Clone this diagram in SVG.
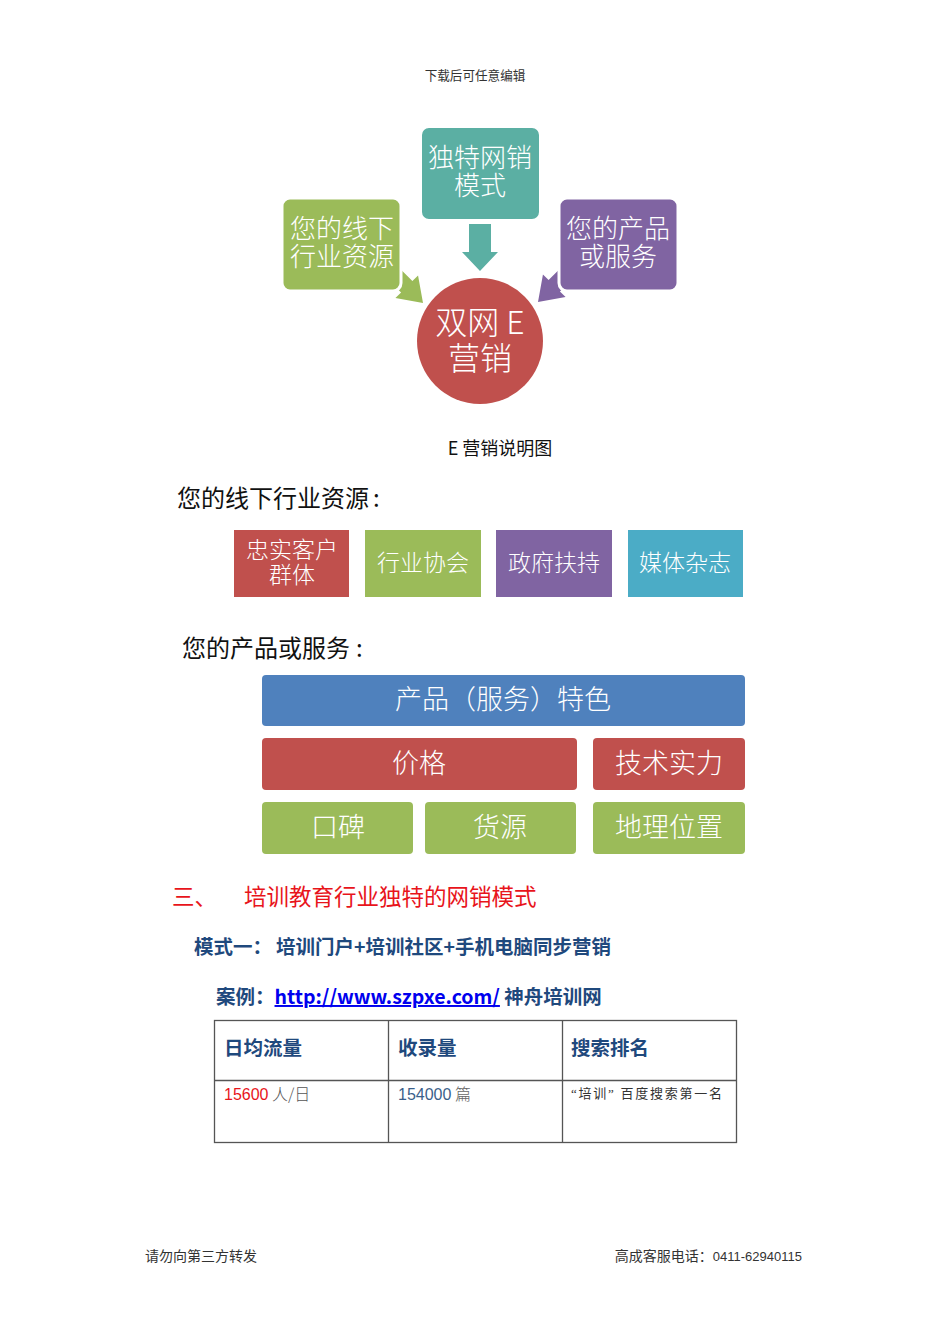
<svg xmlns="http://www.w3.org/2000/svg" width="950" height="1344" viewBox="0 0 950 1344">
<style>
.w{fill:#fff;font-family:"Noto Sans CJK SC","Liberation Sans",sans-serif;font-weight:300;text-anchor:middle}
.k{fill:#111;font-family:"Noto Sans CJK SC","Liberation Sans",sans-serif}
.b{fill:#1F497D;font-family:"Noto Sans CJK SC","Liberation Sans",sans-serif;font-weight:bold}
.s{fill:#333;font-family:"Liberation Serif","Noto Sans CJK SC",serif}
.red{fill:#C0504D}.grn{fill:#9BBB59}.pur{fill:#8064A2}.blu{fill:#4BACC6}.teal{fill:#5BAFA3}.dblu{fill:#4F81BD}
</style>
<text class="s" x="475" y="80" font-size="12.6" text-anchor="middle">下载后可任意编辑</text>

<g id="connectors">
<polygon class="grn" transform="translate(423,303) rotate(45)" points="0,0 -23,-16 -23,-8 -50,-8 -50,8 -23,8 -23,16"/>
<polygon class="pur" transform="translate(538,302) rotate(135)" points="0,0 -23,-16 -23,-8 -50,-8 -50,8 -23,8 -23,16"/>
<polygon class="teal" points="469,224 491,224 491,252 498,252 480,271 462,252 469,252"/>
</g>

<g id="node-teal">
<rect class="teal" x="421" y="127" width="119" height="93" rx="8" stroke="#fff" stroke-width="2"/>
<text class="w" font-size="26"><tspan x="480" y="167">独特网销</tspan><tspan x="480" y="195">模式</tspan></text>
</g>
<g id="node-green">
<rect class="grn" x="282" y="198" width="119" height="93" rx="8" stroke="#fff" stroke-width="3"/>
<text class="w" font-size="26"><tspan x="342" y="238">您的线下</tspan><tspan x="342" y="266">行业资源</tspan></text>
</g>
<g id="node-purple">
<rect class="pur" x="559" y="198" width="119" height="93" rx="8" stroke="#fff" stroke-width="3"/>
<text class="w" font-size="26"><tspan x="618" y="238">您的产品</tspan><tspan x="618" y="266">或服务</tspan></text>
</g>
<g id="node-center">
<circle class="red" cx="480" cy="341" r="63"/>
<text class="w" font-size="32"><tspan x="480" y="334">双网 E</tspan><tspan x="480" y="370">营销</tspan></text>
</g>

<text class="k" x="500" y="455" font-size="18" text-anchor="middle">E 营销说明图</text>

<text class="k" x="177" y="507" font-size="24">您的线下行业资源<tspan dx="4">:</tspan></text>
<g id="res-1"><rect class="red" x="234" y="530" width="115" height="67"/>
<text class="w" font-size="23"><tspan x="292" y="558">忠实客户</tspan><tspan x="292" y="583">群体</tspan></text></g>
<g id="res-2"><rect class="grn" x="365" y="530" width="116" height="67"/><text class="w" x="423" y="571" font-size="23">行业协会</text></g>
<g id="res-3"><rect class="pur" x="496" y="530" width="116" height="67"/><text class="w" x="554" y="571" font-size="23">政府扶持</text></g>
<g id="res-4"><rect class="blu" x="628" y="530" width="115" height="67"/><text class="w" x="685" y="571" font-size="23">媒体杂志</text></g>

<text class="k" x="182" y="657" font-size="24">您的产品或服务<tspan dx="6">:</tspan></text>
<g id="p-1"><rect class="dblu" x="262" y="675" width="483" height="51" rx="4"/><text class="w" x="503" y="709" font-size="27">产品（服务）特色</text></g>
<g id="p-2"><rect class="red" x="262" y="738" width="315" height="52" rx="4"/><text class="w" x="419" y="773" font-size="27">价格</text></g>
<g id="p-3"><rect class="red" x="593" y="738" width="152" height="52" rx="4"/><text class="w" x="669" y="773" font-size="27">技术实力</text></g>
<g id="p-4"><rect class="grn" x="262" y="802" width="151" height="52" rx="4"/><text class="w" x="338" y="837" font-size="27">口碑</text></g>
<g id="p-5"><rect class="grn" x="425" y="802" width="151" height="52" rx="4"/><text class="w" x="500" y="837" font-size="27">货源</text></g>
<g id="p-6"><rect class="grn" x="593" y="802" width="152" height="52" rx="4"/><text class="w" x="669" y="837" font-size="27">地理位置</text></g>

<text x="172" y="905" font-size="22.5" fill="#E8141B" font-family="Noto Sans CJK SC,Liberation Sans,sans-serif">三、</text>
<text x="244" y="905" font-size="22.5" fill="#E8141B" font-family="Noto Sans CJK SC,Liberation Sans,sans-serif">培训教育行业独特的网销模式</text>
<text class="b" x="194" y="954" font-size="19.5">模式一：<tspan x="276">培训门户+培训社区+手机电脑同步营销</tspan></text>
<text class="b" x="216" y="1004" font-size="19.5">案例：<tspan fill="#0000EE" text-decoration="underline">http://www.szpxe.com/</tspan> 神舟培训网</text>

<g id="table" fill="none" stroke="#555" stroke-width="1.3">
<rect x="214.5" y="1020.5" width="522" height="122"/>
<line x1="388.5" y1="1020" x2="388.5" y2="1143"/>
<line x1="562.5" y1="1020" x2="562.5" y2="1143"/>
<line x1="214" y1="1080.5" x2="737" y2="1080.5"/>
</g>
<text class="b" x="224" y="1055" font-size="19.5">日均流量</text>
<text class="b" x="398" y="1055" font-size="19.5">收录量</text>
<text class="b" x="571" y="1055" font-size="19.5">搜索排名</text>
<text x="224" y="1100" font-size="16" fill="#E8141B" font-family="Liberation Sans,sans-serif">15600<tspan fill="#555" font-family="Noto Sans CJK SC,sans-serif" font-weight="300"> 人/日</tspan></text>
<text x="398" y="1100" font-size="16" fill="#3B5F8A" font-family="Liberation Sans,sans-serif">154000<tspan fill="#666" font-family="Noto Sans CJK SC,sans-serif" font-weight="300"> 篇</tspan></text>
<text class="s" x="571" y="1098" font-size="13" fill="#555" textLength="151" lengthAdjust="spacing">“培训” 百度搜索第一名</text>

<text class="s" x="145" y="1261" font-size="14">请勿向第三方转发</text>
<text class="s" x="802" y="1261" font-size="14" text-anchor="end">高成客服电话：<tspan font-family="Liberation Sans,sans-serif" font-size="13">0411-62940115</tspan></text>
</svg>
